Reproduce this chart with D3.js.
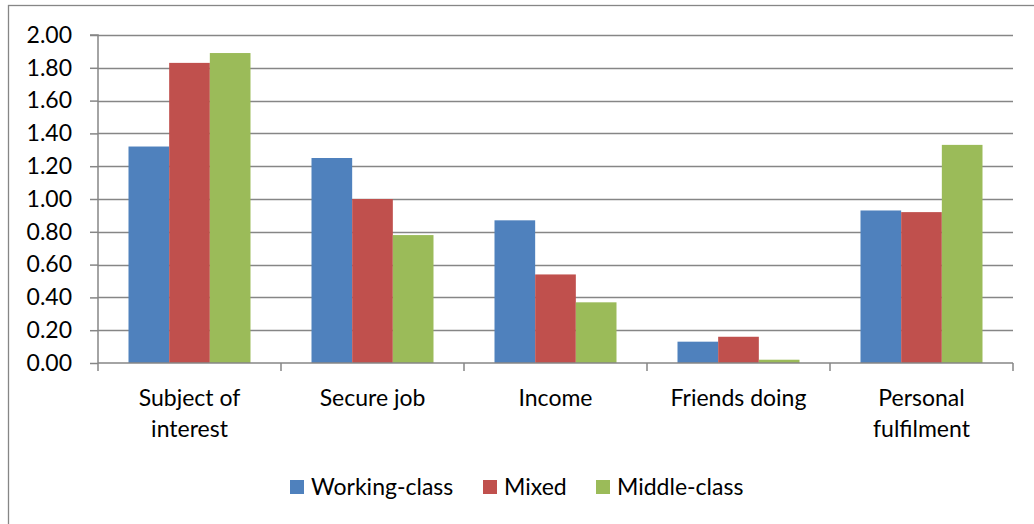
<!DOCTYPE html>
<html>
<head>
<meta charset="utf-8">
<script src="https://cdn.jsdelivr.net/npm/d3@7"></script>
<style>
  html, body { margin: 0; padding: 0; background: #fff; }
  svg { display: block; }
  text { font-family: Lato, "Open Sans", sans-serif; fill: #000; }
</style>
</head>
<body>
<div id="chart"></div>
<script>
const categories = [["Subject of", "interest"], ["Secure job"], ["Income"], ["Friends doing"], ["Personal", "fulfilment"]];
const seriesNames = ["Working-class", "Mixed", "Middle-class"];
const seriesColors = ["#4F81BD", "#C0504D", "#9BBB59"];
const workingClass = [1.32, 1.25, 0.87, 0.13, 0.93];
const mixed = [1.83, 1.00, 0.54, 0.16, 0.92];
const middleClass = [1.89, 0.78, 0.37, 0.02, 1.33];
const yTicks = [0, 0.2, 0.4, 0.6, 0.8, 1.0, 1.2, 1.4, 1.6, 1.8, 2.0];

const W = 1034, H = 524;
const margin = { left: 98, right: 21, top: 35, bottom: 161 };
const FS = "23px";
const svg = d3.select("#chart").append("svg").attr("width", W).attr("height", H);

// outer frame
svg.append("rect").attr("x", 8.5).attr("y", 5.5).attr("width", 1040).attr("height", 540)
  .attr("fill", "none").attr("stroke", "#868686").attr("stroke-width", 1.3);

const x0 = d3.scaleBand().domain(d3.range(categories.length))
  .range([margin.left, W - margin.right]).paddingInner(0).paddingOuter(0);
const x1 = d3.scaleBand().domain(d3.range(seriesNames.length))
  .range([0, x0.bandwidth() * 2 / 3]);
const y = d3.scaleLinear().domain([0, 2]).range([H - margin.bottom, margin.top]);

// gridlines
svg.append("g").selectAll("line").data(yTicks.filter(d => d > 0)).join("line")
  .attr("x1", margin.left).attr("x2", W - margin.right)
  .attr("y1", d => Math.round(y(d)) + 0.5).attr("y2", d => Math.round(y(d)) + 0.5)
  .attr("stroke", "#868686").attr("stroke-width", 1.5);

// bars
const seriesData = [workingClass, mixed, middleClass];
const offset = x0.bandwidth() / 6;
seriesData.forEach((vals, si) => {
  svg.append("g").selectAll("rect").data(vals).join("rect")
    .attr("x", (d, i) => x0(i) + offset + x1(si))
    .attr("y", d => y(d))
    .attr("width", x1.bandwidth())
    .attr("height", d => y(0) - y(d))
    .attr("fill", seriesColors[si]);
});

// y axis
const yAxis = d3.axisLeft(y).tickValues(yTicks).tickFormat(d3.format(".2f")).tickSize(8).tickPadding(18);
const gy = svg.append("g").attr("transform", `translate(${margin.left},0)`).call(yAxis);
gy.select(".domain").attr("stroke", "#868686").attr("stroke-width", 1.5).attr("d", `M-8,${y(2)}H0V${y(0)}`);
gy.selectAll(".tick line").attr("stroke", "#868686").attr("stroke-width", 1.5);
gy.selectAll(".tick text").style("font-size", FS).attr("fill", "#000").style("font-family", "Lato, sans-serif");

// x axis
const xAxis = d3.axisBottom(x0).tickSize(0).tickFormat("");
const gx = svg.append("g").attr("transform", `translate(0,${y(0)})`).call(xAxis);
gx.select(".domain").attr("stroke", "#868686").attr("stroke-width", 1.5).attr("d", `M${margin.left},0H${W - margin.right}`);
const boundaries = d3.range(categories.length + 1).map(i => margin.left + i * x0.bandwidth());
gx.append("g").selectAll("line").data(boundaries).join("line")
  .attr("x1", d => d).attr("x2", d => d).attr("y1", 0).attr("y2", 8)
  .attr("stroke", "#868686").attr("stroke-width", 1.5);

// category labels
categories.forEach((lines, i) => {
  const t = svg.append("text").attr("text-anchor", "middle")
    .attr("x", x0(i) + x0.bandwidth() / 2).attr("y", 406)
    .style("font-size", FS);
  lines.forEach((ln, k) => {
    t.append("tspan").attr("x", x0(i) + x0.bandwidth() / 2).attr("dy", k === 0 ? 0 : 31).text(ln);
  });
});

// legend
const legendX = [290, 483, 596];
const lg = svg.append("g");
seriesNames.forEach((name, i) => {
  lg.append("rect").attr("x", legendX[i]).attr("y", 480).attr("width", 14).attr("height", 14).attr("fill", seriesColors[i]);
  lg.append("text").attr("x", legendX[i] + 21).attr("y", 495).style("font-size", FS).text(name);
});
</script>
</body>
</html>
